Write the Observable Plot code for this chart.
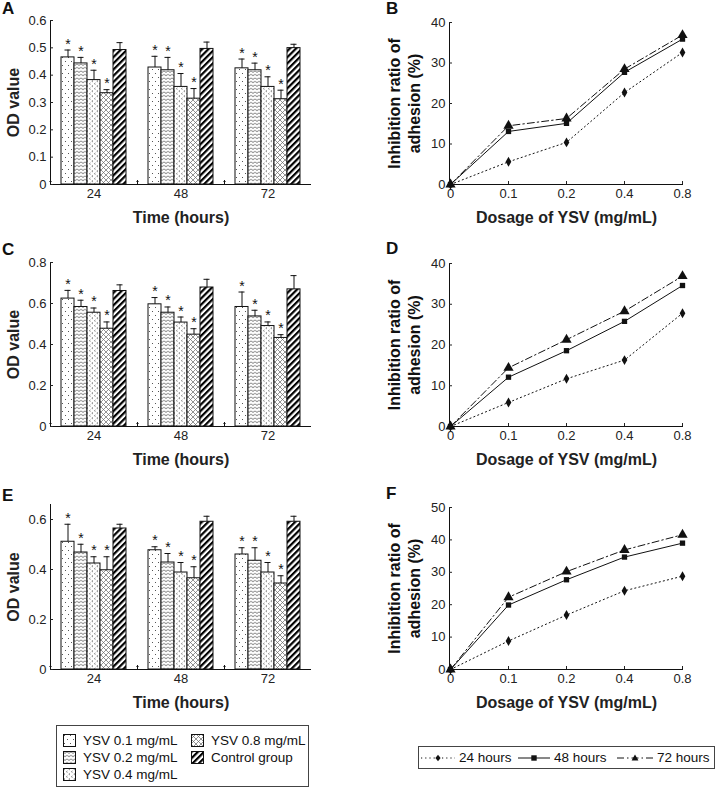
<!DOCTYPE html>
<html><head><meta charset="utf-8">
<script src="https://cdn.jsdelivr.net/npm/d3@7"></script>
<script src="https://cdn.jsdelivr.net/npm/@observablehq/plot@0.6"></script>
<style>
body{margin:0;background:#fff;font-family:'Liberation Sans',Arial,sans-serif;color:#111;}
#root{position:relative;width:716px;height:789px;overflow:hidden;}
.panel{position:absolute;}
.letter{position:absolute;font:bold 17px 'Liberation Sans',Arial,sans-serif;line-height:1;color:#111;}
g[aria-label="y-axis label"], g[aria-label="fx-axis label"], g[aria-label="x-axis label"]{font-weight:bold;font-size:16px;}
.legbox{position:absolute;border:1px solid #444;box-sizing:border-box;background:#fff;font-size:13.5px;}
.legitem{position:absolute;display:flex;align-items:center;white-space:nowrap;}
.legitem svg{margin-right:7px;}
</style></head>
<body>
<svg width="0" height="0" style="position:absolute">
  <defs>
    <pattern id="pat01" width="6" height="8" patternUnits="userSpaceOnUse">
      <rect width="6" height="8" fill="#fff"/>
      <rect x="1" y="1" width="1" height="1" fill="#555"/>
      <rect x="4" y="5" width="1" height="1" fill="#555"/>
    </pattern>
    <pattern id="pat02" width="4" height="3.5" patternUnits="userSpaceOnUse">
      <rect width="4" height="3.5" fill="#fff"/>
      <path d="M0,0.6 L2,2.4 L4,0.6" fill="none" stroke="#333" stroke-width="0.8"/>
    </pattern>
    <pattern id="pat04" width="5" height="5" patternUnits="userSpaceOnUse">
      <rect width="5" height="5" fill="#fff"/>
      <path d="M2,0.4 L0.8,1.2 L2,2" fill="none" stroke="#777" stroke-width="0.8"/>
      <path d="M4.5,2.9 L3.3,3.7 L4.5,4.5" fill="none" stroke="#777" stroke-width="0.8"/>
    </pattern>
    <pattern id="pat08" width="5" height="5" patternUnits="userSpaceOnUse">
      <rect width="5" height="5" fill="#fff"/>
      <path d="M0,0 L5,5 M5,0 L0,5" stroke="#666" stroke-width="0.7"/>
    </pattern>
    <pattern id="patC" width="4.4" height="4.4" patternUnits="userSpaceOnUse" patternTransform="rotate(45)">
      <rect width="4.4" height="4.4" fill="#fff"/>
      <rect width="2.2" height="4.4" fill="#000"/>
    </pattern>
  </defs>
</svg>
<div id="root"></div>
<script>
// ---------- data ----------
const times = ["24", "48", "72"];
const groups = ["YSV 0.1 mg/mL", "YSV 0.2 mg/mL", "YSV 0.4 mg/mL", "YSV 0.8 mg/mL", "Control group"];
const groupFills = ["url(#pat01)", "url(#pat02)", "url(#pat04)", "url(#pat08)", "url(#patC)"];

// Panel A: OD value, rows = time (24, 48, 72), columns = groups
const aMean = [[0.465, 0.443, 0.382, 0.334, 0.492], [0.428, 0.418, 0.357, 0.314, 0.496], [0.425, 0.418, 0.357, 0.312, 0.499]];
const aErr  = [[0.027, 0.022, 0.036, 0.013, 0.027], [0.041, 0.047, 0.049, 0.037, 0.025], [0.034, 0.026, 0.037, 0.033, 0.014]];
// Panel C
const cMean = [[0.624, 0.583, 0.555, 0.477, 0.661], [0.596, 0.555, 0.507, 0.448, 0.678], [0.583, 0.537, 0.490, 0.432, 0.669]];
const cErr  = [[0.040, 0.033, 0.023, 0.033, 0.030], [0.033, 0.028, 0.027, 0.029, 0.040], [0.073, 0.030, 0.020, 0.016, 0.067]];
// Panel E
const eMean = [[0.511, 0.468, 0.424, 0.397, 0.564], [0.477, 0.428, 0.388, 0.365, 0.591], [0.460, 0.435, 0.388, 0.344, 0.591]];
const eErr  = [[0.070, 0.033, 0.027, 0.054, 0.017], [0.014, 0.036, 0.040, 0.046, 0.022], [0.027, 0.052, 0.040, 0.031, 0.022]];

const aTicks = [0, 0.1, 0.2, 0.3, 0.4, 0.5, 0.6];
const cTicks = [0, 0.2, 0.4, 0.6, 0.8];
const eTicks = [0, 0.2, 0.4, 0.6];

// Line panels: inhibition ratio of adhesion (%)
const doses = ["0", "0.1", "0.2", "0.4", "0.8"];
const seriesNames = ["24 hours", "48 hours", "72 hours"];
const b24 = [0, 5.6, 10.4, 22.7, 32.6];
const b48 = [0, 13.1, 15.1, 27.7, 35.9];
const b72 = [0, 14.5, 16.3, 28.5, 36.9];
const d24 = [0, 5.9, 11.7, 16.3, 27.8];
const d48 = [0, 12.1, 18.6, 25.8, 34.6];
const d72 = [0, 14.4, 21.3, 28.3, 36.9];
const f24 = [0, 8.8, 16.8, 24.3, 28.8];
const f48 = [0, 19.9, 27.7, 34.7, 39.0];
const f72 = [0, 22.3, 30.2, 36.9, 41.6];
const bTicks = [0, 10, 20, 30, 40];
const fTicks = [0, 10, 20, 30, 40, 50];

const seriesDash = ["1.2,3", null, "7,3,1.5,3"];
const seriesSymbol = ["diamond", "square", "triangle"];
const seriesR = [3, 3, 3.8];

// ---------- rendering ----------
const INK = "#111";
const plotStyle = {fontFamily: "'Liberation Sans', Arial, sans-serif", fontSize: "13px", color: "#222", background: "transparent", overflow: "visible"};
const fmt1 = d => d === 0 ? "0" : d.toFixed(1);

function barPanel(means, errs, yMax, yTicks, marginTop) {
  const rows = [];
  times.forEach((t, ti) => groups.forEach((g, gi) => rows.push({
    time: t, group: g, value: means[ti][gi], top: means[ti][gi] + errs[ti][gi], star: gi < 4
  })));
  return Plot.plot({
    width: 358, height: 240, marginLeft: 49, marginRight: 46, marginTop, marginBottom: 56,
    style: plotStyle,
    facet: {data: rows, x: "time"},
    fx: {domain: times, padding: 0},
    x: {domain: groups, paddingInner: 0, paddingOuter: 0.735, axis: null},
    y: {domain: [0, yMax]},
    color: {domain: groups, range: groupFills},
    marks: [
      Plot.barY(rows, {x: "group", y: "value", fill: "group", stroke: INK, strokeWidth: 1}),
      Plot.ruleX(rows, {x: "group", y1: "value", y2: "top", stroke: INK}),
      Plot.tickY(rows, {x: "group", y: "top", stroke: INK, insetLeft: 3.5, insetRight: 3.5}),
      Plot.text(rows, {filter: d => d.star, x: "group", y: "top", text: () => "*", dy: -6, fontSize: 14, fill: INK}),
      Plot.ruleY([0], {stroke: INK}),
      Plot.vector([0], {frameAnchor: "bottom-left", length: 4, rotate: 0, anchor: "start", stroke: INK, strokeWidth: 1}),
      Plot.frame({anchor: "left", facetAnchor: "left", stroke: INK}),
      Plot.axisY({ticks: yTicks, tickFormat: fmt1, tickSize: -3, tickPadding: 7, label: "OD value", labelAnchor: "center", labelArrow: "none", labelOffset: 43}),
      Plot.axisFx({anchor: "bottom", tickSize: 0, tickPadding: 4, label: "Time (hours)", labelAnchor: "center", labelArrow: "none", labelOffset: 38})
    ]
  });
}

function linePanel(s24, s48, s72, yMax, yTicks, marginTop) {
  const series = [s24, s48, s72].map(vals => doses.map((d, i) => ({dose: d, value: vals[i]})));
  const order = [0, 2, 1];
  return Plot.plot({
    width: 358, height: 240, marginLeft: 91, marginRight: 33, marginTop, marginBottom: 56,
    style: plotStyle,
    x: {type: "point", domain: doses, padding: 0},
    y: {domain: [0, yMax]},
    marks: [
      Plot.ruleY([0], {stroke: INK}),
      Plot.frame({anchor: "left", stroke: INK}),
      Plot.axisX({tickSize: -3, tickPadding: 7, label: "Dosage of YSV (mg/mL)", labelAnchor: "center", labelArrow: "none", labelOffset: 38}),
      Plot.axisY({ticks: yTicks, tickSize: -3, tickPadding: 7, label: null}),
      Plot.text(["Inhibition ratio of\nadhesion (%)"], {text: d => d, frameAnchor: "left", textAnchor: "middle", lineAnchor: "middle", rotate: -90, dx: -46, lineHeight: 1.25, fontSize: 16, fontWeight: "bold", fill: INK}),
      ...order.map(k => Plot.line(series[k], {x: "dose", y: "value", stroke: INK, strokeWidth: 1, strokeDasharray: seriesDash[k]})),
      ...order.map(k => Plot.dot(series[k], {x: "dose", y: "value", symbol: seriesSymbol[k], r: seriesR[k], fill: INK, stroke: null}))
    ]
  });
}

const root = document.getElementById("root");
function place(node, left, top) {
  const div = document.createElement("div");
  div.className = "panel";
  div.style.left = left + "px";
  div.style.top = top + "px";
  div.appendChild(node);
  root.appendChild(div);
}
place(barPanel(aMean, aErr, 0.6, aTicks, 20), 0, 0);
place(linePanel(b24, b48, b72, 40, bTicks, 22), 358, 0);
place(barPanel(cMean, cErr, 0.8, cTicks, 20), 0, 242);
place(linePanel(d24, d48, d72, 40, bTicks, 21), 358, 242);
place(barPanel(eMean, eErr, 0.66, eTicks, 19), 0, 485);
place(linePanel(f24, f48, f72, 50, fTicks, 22), 358, 485);

// panel letters
[["A", 2, 0], ["B", 386, 0], ["C", 2, 241], ["D", 386, 240], ["E", 2, 487], ["F", 386, 485]].forEach(([t, x, y]) => {
  const d = document.createElement("div");
  d.className = "letter"; d.textContent = t;
  d.style.left = x + "px"; d.style.top = y + "px";
  root.appendChild(d);
});

// left legend (bar patterns)
const legL = document.createElement("div");
legL.className = "legbox";
Object.assign(legL.style, {left: "56px", top: "725px", width: "253px", height: "62px"});
const legPos = [[6, 7], [6, 24], [6, 41], [134, 7], [134, 24]];
groups.forEach((g, i) => {
  const it = document.createElement("div");
  it.className = "legitem";
  it.style.left = legPos[i][0] + "px"; it.style.top = legPos[i][1] + "px";
  it.innerHTML = `<svg width="13" height="13"><rect x="0.5" y="0.5" width="12" height="12" fill="${groupFills[i]}" stroke="${INK}"/></svg><span>${g}</span>`;
  legL.appendChild(it);
});
root.appendChild(legL);

// right legend (line series)
const legR = document.createElement("div");
legR.className = "legbox";
Object.assign(legR.style, {left: "418px", top: "746px", width: "297px", height: "23px"});
const legRPos = [2, 99, 198];
const legRW = [34, 32, 36];
const symPath = [
  "M0,-3.2L2.6,0L0,3.2L-2.6,0Z",
  "M-2.7,-2.7H2.7V2.7H-2.7Z",
  "M0,-3.6L3.4,2.6H-3.4Z"
];
seriesNames.forEach((s, i) => {
  const it = document.createElement("div");
  it.className = "legitem";
  it.style.left = legRPos[i] + "px"; it.style.top = "3px";
  const w = legRW[i];
  it.innerHTML = `<svg width="${w}" height="14" style="margin-right:4px"><line x1="0" x2="${w}" y1="7" y2="7" stroke="${INK}" stroke-width="1" ${seriesDash[i] ? `stroke-dasharray="${seriesDash[i]}"` : ""}/><path transform="translate(${w / 2},7)" d="${symPath[i]}" fill="${INK}"/></svg><span>${s}</span>`;
  legR.appendChild(it);
});
root.appendChild(legR);
</script>
</body></html>
